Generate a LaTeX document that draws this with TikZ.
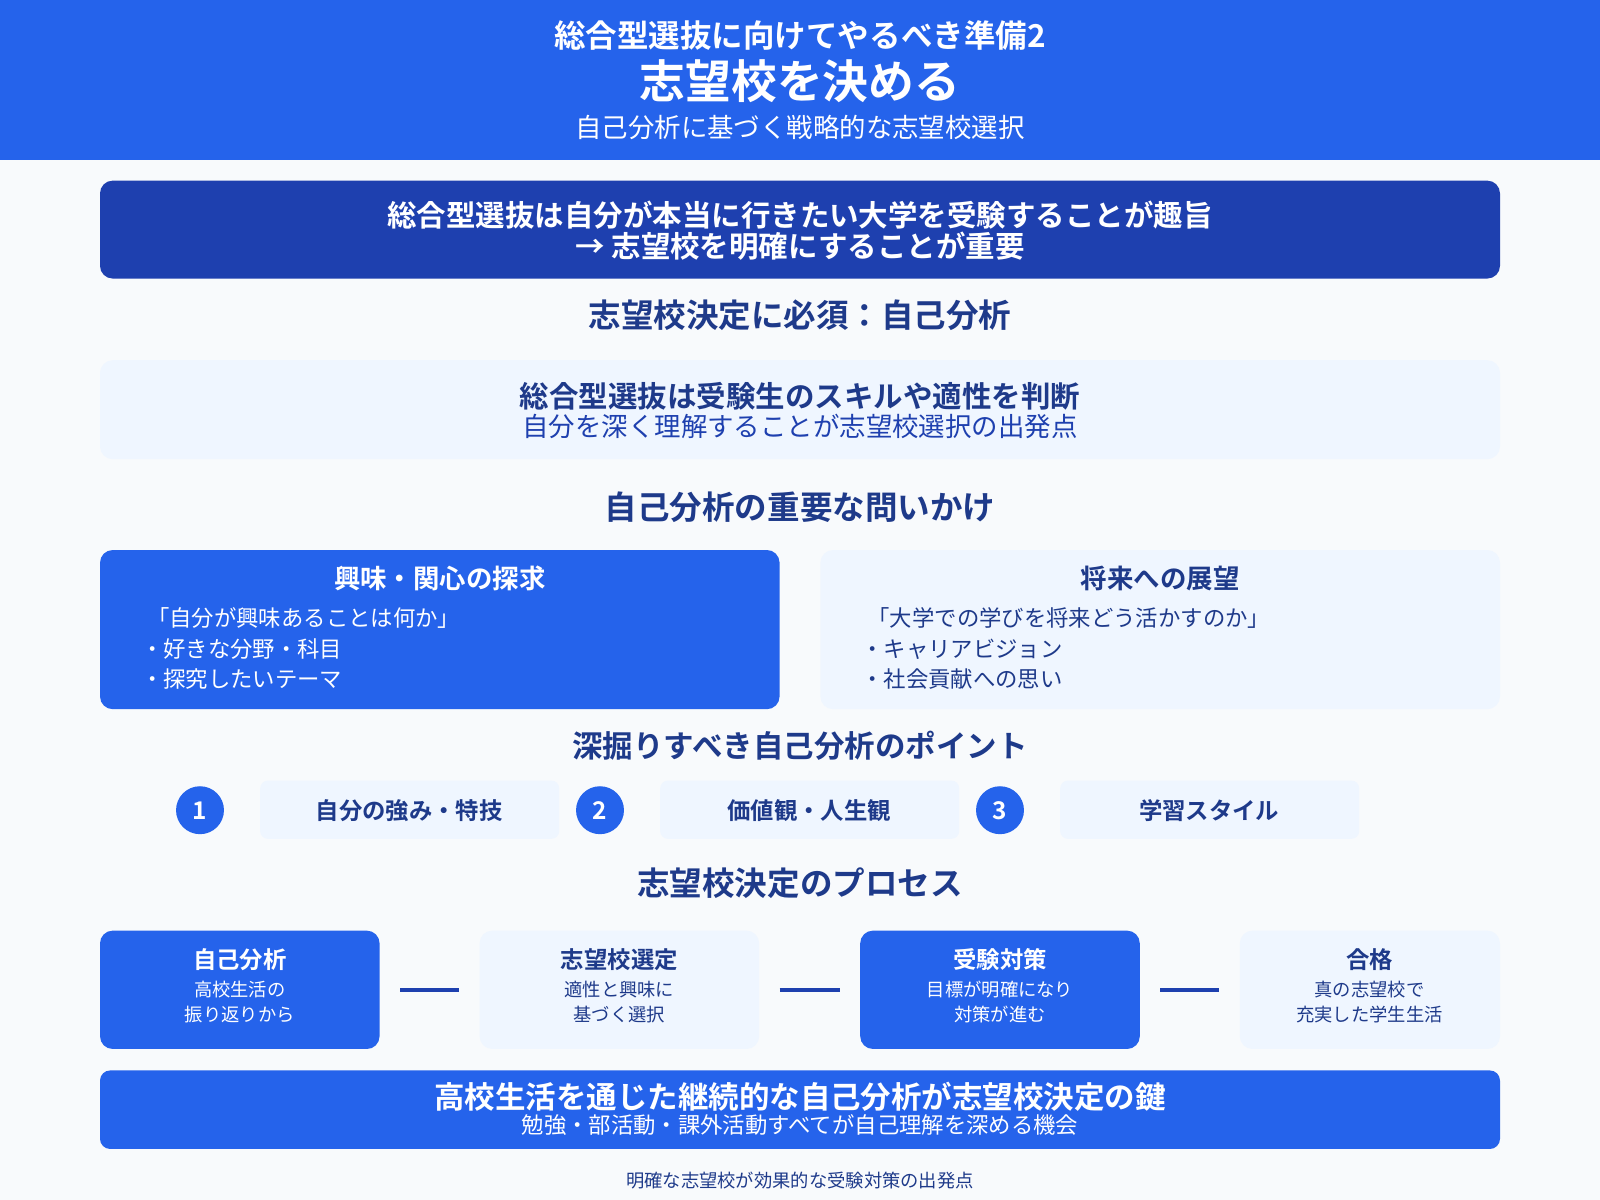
\documentclass[tikz,border=0pt]{standalone}
\usepackage{fontspec}
\setmainfont{Noto Sans CJK JP}
\newfontfamily\jpb{Noto Sans CJK JP Bold}
\definecolor{hblue}{HTML}{2563EB}
\definecolor{dblue}{HTML}{1E40AF}
\definecolor{nblue}{HTML}{1E3A8A}
\definecolor{lbox}{HTML}{EFF6FF}
\definecolor{bg}{HTML}{F8FAFC}
\newcommand{\fs}[1]{\fontsize{#1*0.567pt}{#1*0.7pt}\selectfont}
\newcommand{\px}[1]{\fontsize{\dimexpr #1pt*567/1000\relax}{\dimexpr #1pt*700/1000\relax}\selectfont}
\tikzset{x=0.02cm,y=-0.02cm,
 box/.style={rounded corners=0.25cm,draw=none},
 bluebox/.style={box,fill=hblue},
 darkbox/.style={box,fill=dblue},
 lightbox/.style={box,fill=lbox},
 head/.style={text=nblue,font=\jpb\px{32}},
 conn/.style={draw=dblue,line width=2.3pt,shorten <=0.4cm,shorten >=0.4cm}}
\begin{document}
\begin{tikzpicture}
\useasboundingbox (0,0) rectangle (1568,1176);
\fill[bg] (0,0) rectangle (1568,1176);
\fill[hblue] (0,0) rectangle (1568,157);
\node[text=white,font=\jpb\px{31}] (t1) at (784,35) {総合型選抜に向けてやるべき準備2};
\node[text=white,font=\jpb\px{45}] (t2) at (784,80) {志望校を決める};
\node[text=white,font=\px{26}] (t3) at (784,125) {自己分析に基づく戦略的な志望校選択};
\path[darkbox] (98,177) rectangle (1470,273);
\node[text=white,font=\jpb\px{29},align=center] (m1) at (784,226) {総合型選抜は自分が本当に行きたい大学を受験することが趣旨\\[-3pt]→ 志望校を明確にすることが重要};
\node[head] (h1) at (784,309) {志望校決定に必須：自己分析};
\path[lightbox] (98,353) rectangle (1470,450);
\node[text=nblue,font=\jpb\px{29}] (s1) at (784,388) {総合型選抜は受験生のスキルや適性を判断};
\node[text=dblue,font=\px{26}] (s2) at (784,418) {自分を深く理解することが志望校選択の出発点};
\node[head] (h2) at (784,497) {自己分析の重要な問いかけ};
\path[bluebox] (98,539) rectangle (764,695);
\node[text=white,font=\jpb\px{26}] (q1) at (431,567) {興味・関心の探求};
\node[text=white,font=\px{22},anchor=west] (q1a) at (138,606) {「自分が興味あることは何か」};
\node[text=white,font=\px{22},anchor=west] (q1b) at (132,636) {・好きな分野・科目};
\node[text=white,font=\px{22},anchor=west] (q1c) at (132,665) {・探究したいテーマ};
\path[lightbox] (804,539) rectangle (1470,695);
\node[text=nblue,font=\jpb\px{26}] (q2) at (1137,567) {将来への展望};
\node[text=nblue,font=\px{22},anchor=west] (q2a) at (844,606) {「大学での学びを将来どう活かすのか」};
\node[text=nblue,font=\px{22},anchor=west] (q2b) at (838,636) {・キャリアビジョン};
\node[text=nblue,font=\px{22},anchor=west] (q2c) at (838,665) {・社会貢献への思い};
\node[head,font=\jpb\px{30}] (h3) at (784,731) {深掘りすべき自己分析のポイント};
\foreach \n/\cx/\bx/\t in {1/196/255/自分の強み・特技,2/588/647/価値観・人生観,3/980/1039/学習スタイル}{
 \node[circle,fill=hblue,minimum size=0.94cm,inner sep=0pt,text=white,font=\jpb\px{24}] (c\n) at (\cx,794) {\n};
 \path[lightbox,rounded corners=0.15cm] (\bx,765) rectangle (\bx+293,822);
 \node[text=nblue,font=\jpb\px{23}] (p\n) at (\bx+146,794) {\t};
}
\node[head] (h4) at (784,866) {志望校決定のプロセス};
\path[bluebox] (98,912) rectangle (372,1028);
\path[lightbox] (470,912) rectangle (744,1028);
\path[bluebox] (843,912) rectangle (1117,1028);
\path[lightbox] (1215,912) rectangle (1470,1028);
\coordinate (b1) at (372,970); \coordinate (b2l) at (470,970);
\coordinate (b2) at (744,970); \coordinate (b3l) at (843,970);
\coordinate (b3) at (1117,970); \coordinate (b4l) at (1215,970);
\draw[conn] (b1) -- (b2l); \draw[conn] (b2) -- (b3l); \draw[conn] (b3) -- (b4l);
\foreach \x/\c/\a/\b/\d [count=\i] in {235/white/自己分析/高校生活の/振り返りから,607/nblue/志望校選定/適性と興味に/基づく選択,980/white/受験対策/目標が明確になり/対策が進む,1342/nblue/合格/真の志望校で/充実した学生生活}{
 \node[text=\c,font=\jpb\px{23}] (pt\i) at (\x,940) {\a};
 \node[text=\c,font=\px{18}] (pa\i) at (\x,970) {\b};
 \node[text=\c,font=\px{18}] (pb\i) at (\x,994) {\d};
}
\path[bluebox,rounded corners=0.2cm] (98,1049) rectangle (1470,1126);
\node[text=white,font=\jpb\px{30}] (f1) at (784,1075) {高校生活を通じた継続的な自己分析が志望校決定の鍵};
\node[text=white,font=\px{22}] (f2) at (784,1103) {勉強・部活動・課外活動すべてが自己理解を深める機会};
\node[text=nblue,font=\px{18}] (f3) at (784,1157) {明確な志望校が効果的な受験対策の出発点};
\end{tikzpicture}
\end{document}
